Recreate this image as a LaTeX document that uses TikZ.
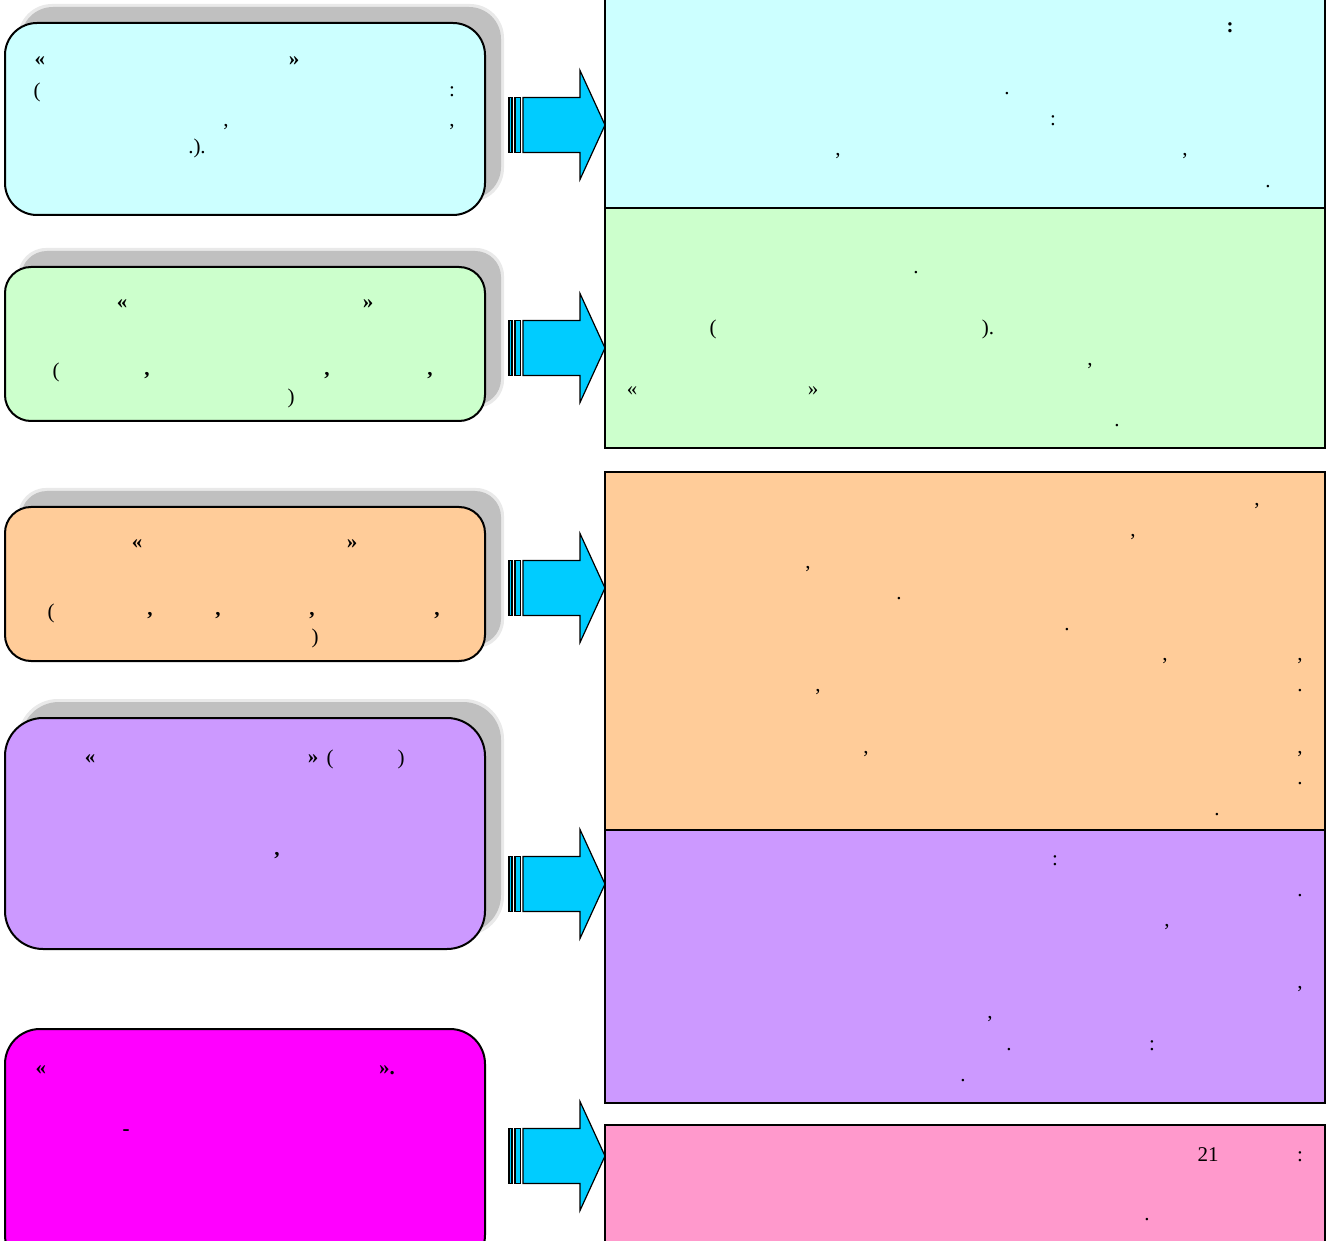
\documentclass[tikz,border=0pt]{standalone}
\usepackage{fontspec}
\setmainfont{Liberation Serif}
\definecolor{cyanbg}{HTML}{CCFFFF}
\definecolor{greenbg}{HTML}{CCFFCC}
\definecolor{orangebg}{HTML}{FFCC99}
\definecolor{purplebg}{HTML}{CC99FF}
\definecolor{magentabg}{HTML}{FF00FF}
\definecolor{pinkbg}{HTML}{FF99CC}
\definecolor{arrowblue}{HTML}{00CCFF}
\definecolor{shadowgray}{HTML}{C0C0C0}
\tikzset{
  lbox/.style={draw=black, line width=1pt, inner sep=0pt, minimum width=240pt},
  rbox/.style={draw=black, line width=1pt, inner sep=0pt, minimum width=360pt},
  shcore/.style={fill=shadowgray, draw=none, inner sep=0pt, minimum width=240pt},
  shsoft/.style={fill=shadowgray, draw=none, opacity=0.35, inner sep=0pt, minimum width=243pt},
  txt/.style={inner sep=0pt, anchor=base, font=\fontsize{10.5}{12}\selectfont},
  ltxt/.style={inner sep=0pt, anchor=base, font=\fontsize{10.5}{12}\selectfont},
  btxt/.style={inner sep=0pt, anchor=base, font=\fontsize{10.5}{12}\selectfont\bfseries},
  rbtxt/.style={inner sep=0pt, anchor=base, font=\fontsize{10.5}{12}\selectfont\bfseries},
  arrowline/.style={draw=black, line width=0.6pt, fill=arrowblue, line join=miter},
  barrow/.pic={
    \draw[arrowline] (-96,-27.5) rectangle (-93,27.5);
    \draw[arrowline] (-90,-27.5) rectangle (-84.5,27.5);
    \draw[arrowline] (-82,-27.5) -- (-25,-27.5) -- (-25,-54.5) -- (0,0)
       -- (-25,54.5) -- (-25,27.5) -- (-82,27.5) -- cycle;
  }
}
\begin{document}
\begin{tikzpicture}[x=0.5pt,y=-0.5pt]
\useasboundingbox (0,0) rectangle (1335,1241);
\clip (0,0) rectangle (1335,1241);
\fill[white] (0,0) rectangle (1335,1241);

% shadows
\node[shsoft, minimum height=99pt, rounded corners=17pt] (S1s) at (261,103) {};
\node[shcore, minimum height=96pt, rounded corners=16pt] (S1) at (261,103) {};
\node[shsoft, minimum height=80pt, rounded corners=14pt] (S2s) at (261,328) {};
\node[shcore, minimum height=77pt, rounded corners=13pt] (S2) at (261,328) {};
\node[shsoft, minimum height=80pt, rounded corners=14pt] (S3s) at (261,568) {};
\node[shcore, minimum height=77pt, rounded corners=13pt] (S3) at (261,568) {};
\node[shsoft, minimum height=118.5pt, rounded corners=20pt] (S4s) at (261,817.5) {};
\node[shcore, minimum height=115.5pt, rounded corners=19pt] (S4) at (261,817.5) {};

% left boxes
\node[lbox, fill=cyanbg, minimum height=96pt, rounded corners=16pt] (L1) at (245,119) {};
\node[lbox, fill=greenbg, minimum height=77pt, rounded corners=13pt] (L2) at (245,344) {};
\node[lbox, fill=orangebg, minimum height=77pt, rounded corners=13pt] (L3) at (245,584) {};
\node[lbox, fill=purplebg, minimum height=115.5pt, rounded corners=19pt] (L4) at (245,833.5) {};
\node[lbox, fill=magentabg, minimum height=120.5pt, rounded corners=17.5pt] (L5) at (245,1149.5) {};

% right boxes
\node[rbox, fill=cyanbg, minimum height=109pt] (R1) at (965,99) {};
\node[rbox, fill=greenbg, minimum height=120pt] (R2) at (965,328) {};
\node[rbox, fill=orangebg, minimum height=179pt] (R3) at (965,651) {};
\node[rbox, fill=purplebg, minimum height=136.5pt] (R4) at (965,966.5) {};
\node[rbox, fill=pinkbg, minimum height=72.5pt] (R5) at (965,1197.5) {};

% arrows
\pic (A1) at (605,125) {barrow};
\pic (A2) at (605,348) {barrow};
\pic (A3) at (605,588) {barrow};
\pic (A4) at (605,884) {barrow};
\pic (A5) at (605,1156) {barrow};

% left box 1
\node[btxt] (l1a) at (40,66) {«};
\node[btxt] (l1b) at (294,66) {»};
\node[ltxt] (l1c) at (37,98) {(};
\node[ltxt] (l1d) at (452,97) {:};
\node[ltxt] (l1e) at (226,127) {,};
\node[ltxt] (l1f) at (452,127) {,};
\node[ltxt] (l1g) at (197,154) {.).};

% left box 2
\node[btxt] (l2a) at (122,309) {«};
\node[btxt] (l2b) at (368,309) {»};
\node[ltxt] (l2c) at (56,378) {(};
\node[btxt] (l2d) at (147,376) {,};
\node[btxt] (l2e) at (327,376) {,};
\node[btxt] (l2f) at (430,376) {,};
\node[ltxt] (l2g) at (291,404) {)};

% left box 3
\node[btxt] (l3a) at (137,549) {«};
\node[btxt] (l3b) at (352,549) {»};
\node[ltxt] (l3c) at (51,618) {(};
\node[btxt] (l3d) at (150,616) {,};
\node[btxt] (l3e) at (218,616) {,};
\node[btxt] (l3f) at (312,616) {,};
\node[btxt] (l3g) at (437,616) {,};
\node[ltxt] (l3h) at (315,643) {)};

% left box 4
\node[btxt] (l4a) at (90,763) {«};
\node[btxt] (l4b) at (313,763) {»};
\node[ltxt] (l4c) at (330,764) {(};
\node[ltxt] (l4d) at (401,764) {)};
\node[btxt] (l4e) at (277,855) {,};

% left box 5
\node[btxt] (l5a) at (41,1074) {«};
\node[btxt] (l5b) at (387,1074) {».};
\node[btxt] (l5c) at (126,1135) {-};

% right box 1
\node[rbtxt] (r1a) at (1230,33) {:};
\node[txt] (r1b) at (1007,95) {.};
\node[txt] (r1c) at (1053,126) {:};
\node[txt] (r1d) at (838,156) {,};
\node[txt] (r1e) at (1185,156) {,};
\node[txt] (r1f) at (1268,188) {.};

% right box 2
\node[txt] (r2a) at (916,274) {.};
\node[txt] (r2b) at (713,335) {(};
\node[txt] (r2c) at (988,335) {).};
\node[txt] (r2d) at (1090,366) {,};
\node[txt] (r2e) at (632,396) {«};
\node[txt] (r2f) at (813,396) {»};
\node[txt] (r2g) at (1117,427) {.};

% right box 3
\node[txt] (r3a) at (1257,506) {,};
\node[txt] (r3b) at (1133,537) {,};
\node[txt] (r3c) at (808,568) {,};
\node[txt] (r3d) at (899,599) {.};
\node[txt] (r3e) at (1067,630) {.};
\node[txt] (r3f) at (1165,660) {,};
\node[txt] (r3g) at (1300,660) {,};
\node[txt] (r3h) at (818,691) {,};
\node[txt] (r3i) at (1300,691) {.};
\node[txt] (r3j) at (866,753) {,};
\node[txt] (r3k) at (1300,753) {,};
\node[txt] (r3l) at (1300,784) {.};
\node[txt] (r3m) at (1217,815) {.};

% right box 4
\node[txt] (r4a) at (1055,865) {:};
\node[txt] (r4b) at (1300,896) {.};
\node[txt] (r4c) at (1167,926) {,};
\node[txt] (r4d) at (1300,988) {,};
\node[txt] (r4e) at (990,1018) {,};
\node[txt] (r4f) at (1009,1050) {.};
\node[txt] (r4g) at (1152,1050) {:};
\node[txt] (r4h) at (963,1081) {.};

% right box 5
\node[txt] (r5a) at (1208,1161) {21};
\node[txt] (r5b) at (1300,1161) {:};
\node[txt] (r5c) at (1147,1220) {.};
\end{tikzpicture}
\end{document}
